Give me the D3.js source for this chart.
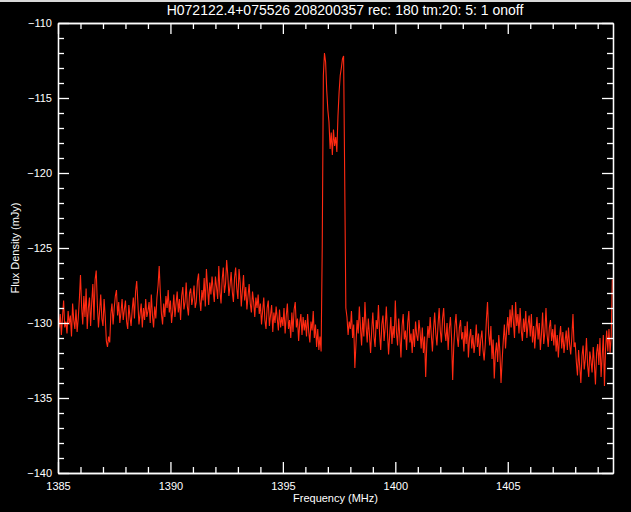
<!DOCTYPE html>
<html>
<head>
<meta charset="utf-8">
<script src="https://cdn.jsdelivr.net/npm/d3@7"></script>
<style>
  html, body { margin: 0; padding: 0; background: #000; }
  svg { display: block; }
  text { font-family: "Liberation Sans", Arial, sans-serif; fill: #fff; }
</style>
</head>
<body>
<svg id="chart" width="631" height="512"></svg>
<script>
const titleText = "H072122.4+075526 208200357 rec: 180 tm:20: 5: 1 onoff";
const xLabel = "Frequency (MHz)";
const yLabel = "Flux Density (mJy)";
const xDomain = [1385, 1409.68];
const yDomain = [-140, -110];
const xMajorTicks = [1385, 1390, 1395, 1400, 1405];
const yMajorTicks = [-140, -135, -130, -125, -120, -115, -110];
const freqStart = 1385.0;
const freqStep = 0.05;
const fluxValues = [
  // 1385
  -130.6,-130.2,-129.4,-130.8,-129.6,-128.5,-130.3,-129.9,-130.7,-129.2,-130.1,-129.5,-130.9,-128.7,-129.8,-130.4,-129.1,-130.6,-129.7,-128.4,
  // 1386
  -126.8,-128.9,-130.1,-128.2,-129.6,-127.7,-130.4,-129.0,-128.3,-130.2,-128.6,-127.4,-129.8,-127.1,-126.5,-128.8,-130.3,-129.2,-128.1,-129.7,
  // 1387
  -130.2,-128.4,-129.6,-131.2,-131.6,-130.9,-131.3,-129.4,-128.7,-130.1,-129.0,-128.2,-127.8,-129.5,-128.6,-130.0,-129.3,-128.4,-129.8,-129.1,
  // 1388
  -128.5,-129.9,-130.4,-128.8,-129.6,-130.2,-129.1,-128.3,-129.7,-127.9,-127.2,-128.6,-130.1,-129.4,-128.7,-130.3,-129.0,-129.8,-128.4,-129.6,
  // 1389
  -129.2,-128.6,-130.0,-128.1,-129.5,-130.3,-128.9,-129.7,-128.3,-127.5,-126.2,-128.0,-129.4,-130.1,-128.7,-129.6,-128.2,-129.0,-127.8,-129.3,
  // 1390
  -128.5,-130.0,-129.2,-128.1,-129.6,-128.7,-127.9,-129.3,-128.4,-129.8,-128.2,-127.6,-129.1,-128.6,-127.3,-128.9,-129.5,-128.0,-127.7,-128.8,
  // 1391
  -128.3,-127.5,-129.0,-128.6,-127.2,-126.7,-128.4,-129.2,-127.8,-128.5,-127.0,-128.9,-126.4,-127.6,-128.8,-127.3,-128.1,-126.9,-127.8,-128.6,
  // 1392
  -126.9,-127.6,-128.4,-126.2,-127.9,-128.7,-127.1,-126.3,-128.0,-127.4,-125.8,-126.8,-128.2,-127.5,-126.6,-127.9,-128.6,-127.0,-126.3,-127.7,
  // 1393
  -128.4,-126.4,-127.3,-128.9,-127.8,-126.8,-128.5,-127.6,-129.1,-128.2,-127.4,-128.7,-129.3,-127.9,-128.6,-129.6,-128.3,-129.0,-128.1,-129.4,
  // 1394
  -128.7,-130.1,-129.2,-128.3,-129.8,-130.4,-129.0,-128.5,-130.2,-129.5,-128.8,-130.6,-129.3,-130.0,-128.9,-129.7,-130.5,-129.1,-130.3,-129.6,
  // 1395
  -130.2,-129.0,-130.7,-129.5,-128.7,-130.4,-129.8,-131.0,-129.3,-130.6,-129.1,-128.6,-130.3,-129.7,-131.2,-130.0,-129.4,-130.8,-129.6,-130.5,
  // 1396
  -129.8,-130.9,-129.4,-130.6,-131.3,-129.9,-130.5,-129.2,-131.0,-130.1,-131.6,-130.4,-131.8,-130.9,-131.9,-125.0,-113.5,-112.0,-112.6,-114.5,
  // 1397
  -115.8,-116.6,-118.4,-117.3,-118.8,-117.1,-118.2,-117.6,-118.6,-116.2,-114.6,-113.5,-113.0,-112.4,-112.2,-120.5,-129.0,-129.6,-130.8,-129.9,
  // 1398
  -130.4,-129.2,-131.0,-130.1,-133.0,-131.4,-129.8,-130.7,-128.9,-130.3,-131.5,-129.6,-130.9,-128.6,-130.2,-131.3,-129.7,-130.8,-132.0,-130.5,
  // 1399
  -129.3,-130.9,-131.6,-129.8,-130.4,-128.8,-130.7,-131.8,-130.1,-129.5,-131.2,-130.3,-128.9,-130.6,-132.1,-130.8,-129.6,-131.4,-130.2,-131.0,
  // 1400
  -128.5,-130.6,-131.5,-129.7,-130.9,-132.3,-130.2,-129.4,-131.1,-130.5,-131.8,-130.0,-129.2,-131.3,-130.7,-132.0,-130.4,-131.6,-129.9,-130.8,
  // 1401
  -131.2,-129.8,-130.6,-131.7,-130.3,-132.0,-130.9,-133.6,-131.4,-130.2,-131.0,-129.6,-130.8,-131.9,-130.4,-129.3,-130.7,-131.5,-130.1,-129.0,
  // 1402
  -130.5,-131.3,-129.7,-129.0,-130.6,-131.2,-130.0,-131.8,-130.4,-129.6,-131.0,-133.8,-131.5,-130.2,-129.4,-130.9,-131.6,-130.3,-129.8,-131.1,
  // 1403
  -130.6,-131.9,-130.2,-131.4,-129.9,-132.3,-131.0,-130.4,-131.7,-130.8,-132.0,-131.3,-130.1,-131.6,-130.7,-132.2,-131.1,-130.5,-131.8,-132.5,
  // 1404
  -131.4,-129.8,-128.6,-130.7,-131.5,-130.2,-132.4,-131.1,-133.7,-132.0,-131.3,-132.6,-130.8,-131.9,-134.0,-132.5,-131.2,-130.1,-131.7,-130.5,
  // 1405
  -129.6,-130.8,-129.1,-130.3,-128.8,-129.9,-131.0,-128.6,-130.2,-129.4,-130.7,-129.0,-130.5,-131.2,-129.7,-130.6,-129.2,-131.0,-130.1,-129.5,
  // 1406
  -130.9,-129.4,-131.3,-130.2,-131.7,-130.5,-129.6,-131.1,-130.0,-131.8,-130.7,-129.3,-131.4,-130.6,-129.0,-130.8,-131.6,-130.3,-129.8,-131.2,
  // 1407
  -130.4,-131.5,-130.1,-131.9,-130.8,-132.3,-131.0,-130.2,-131.7,-130.6,-132.0,-131.2,-130.5,-131.8,-130.3,-131.4,-132.1,-130.9,-129.4,-131.6,
  // 1408
  -131.3,-132.6,-133.5,-131.8,-132.9,-134.0,-132.2,-131.5,-133.1,-132.4,-131.0,-132.8,-133.6,-131.9,-132.5,-133.3,-131.6,-132.7,-134.1,-132.0,
  // 1409
  -131.4,-132.8,-131.0,-133.6,-132.2,-130.8,-134.2,-131.7,-130.5,-131.9,-130.4,-132.0,-130.9,-127.1
];

const data = fluxValues.map((v, i) => ({ f: freqStart + i * freqStep, v }));

const svg = d3.select("#chart");
const pLeft = 58, pRight = 613, pTop = 23, pBottom = 473;

svg.append("rect").attr("x", 0).attr("y", 0).attr("width", 631).attr("height", 512).attr("fill", "#000");
svg.append("rect").attr("x", 0).attr("y", 0).attr("width", 631).attr("height", 2).attr("fill", "#d8d8d8");

const x = d3.scaleLinear().domain(xDomain).range([pLeft, pRight]);
const y = d3.scaleLinear().domain(yDomain).range([pBottom, pTop]);

svg.append("clipPath").attr("id", "clip")
  .append("rect").attr("x", pLeft).attr("y", pTop).attr("width", pRight - pLeft).attr("height", pBottom - pTop);

const line = d3.line().x(d => x(d.f)).y(d => y(d.v));
svg.append("path").datum(data)
  .attr("clip-path", "url(#clip)")
  .attr("fill", "none").attr("stroke", "#ff2a12").attr("stroke-width", 1.1)
  .attr("d", line);

const xMinor = d3.range(1386, 1410, 1).filter(v => v % 5 !== 0);
const yMinor = d3.range(-139, -110, 1).filter(v => v % 5 !== 0);

function styleAxis(g) {
  g.select(".domain").attr("stroke", "#fff").attr("stroke-width", 1.3);
  g.selectAll(".tick line").attr("stroke", "#fff").attr("stroke-width", 1.3);
  g.selectAll(".tick text").attr("fill", "#fff").style("font-size", "11px").style("font-family", "Liberation Sans, Arial, sans-serif");
}

const gB = svg.append("g").attr("transform", `translate(0,${pBottom})`)
  .call(d3.axisBottom(x).tickValues(xMajorTicks).tickFormat(d3.format("d")).tickSize(-11).tickPadding(9).tickSizeOuter(0));
styleAxis(gB);
const gBm = svg.append("g").attr("transform", `translate(0,${pBottom})`)
  .call(d3.axisBottom(x).tickValues(xMinor).tickFormat("").tickSize(-6).tickSizeOuter(0));
styleAxis(gBm);

const gT = svg.append("g").attr("transform", `translate(0,${pTop})`)
  .call(d3.axisTop(x).tickValues(xMajorTicks).tickFormat("").tickSize(-11).tickSizeOuter(0));
styleAxis(gT);
const gTm = svg.append("g").attr("transform", `translate(0,${pTop})`)
  .call(d3.axisTop(x).tickValues(xMinor).tickFormat("").tickSize(-6).tickSizeOuter(0));
styleAxis(gTm);

const gL = svg.append("g").attr("transform", `translate(${pLeft},0)`)
  .call(d3.axisLeft(y).tickValues(yMajorTicks).tickFormat(d3.format("d")).tickSize(-11).tickPadding(6).tickSizeOuter(0));
styleAxis(gL);
const gLm = svg.append("g").attr("transform", `translate(${pLeft},0)`)
  .call(d3.axisLeft(y).tickValues(yMinor).tickFormat("").tickSize(-6).tickSizeOuter(0));
styleAxis(gLm);

const gR = svg.append("g").attr("transform", `translate(${pRight},0)`)
  .call(d3.axisRight(y).tickValues(yMajorTicks).tickFormat("").tickSize(-11).tickSizeOuter(0));
styleAxis(gR);
const gRm = svg.append("g").attr("transform", `translate(${pRight},0)`)
  .call(d3.axisRight(y).tickValues(yMinor).tickFormat("").tickSize(-6).tickSizeOuter(0));
styleAxis(gRm);

svg.append("text").attr("x", 345).attr("y", 15).attr("text-anchor", "middle")
  .style("font-size", "14px").text(titleText);
svg.append("text").attr("x", (pLeft + pRight) / 2).attr("y", 502).attr("text-anchor", "middle")
  .style("font-size", "11px").text(xLabel);
svg.append("text").attr("transform", `translate(19,${(pTop + pBottom) / 2}) rotate(-90)`)
  .attr("text-anchor", "middle").style("font-size", "11px").text(yLabel);
</script>
</body>
</html>
